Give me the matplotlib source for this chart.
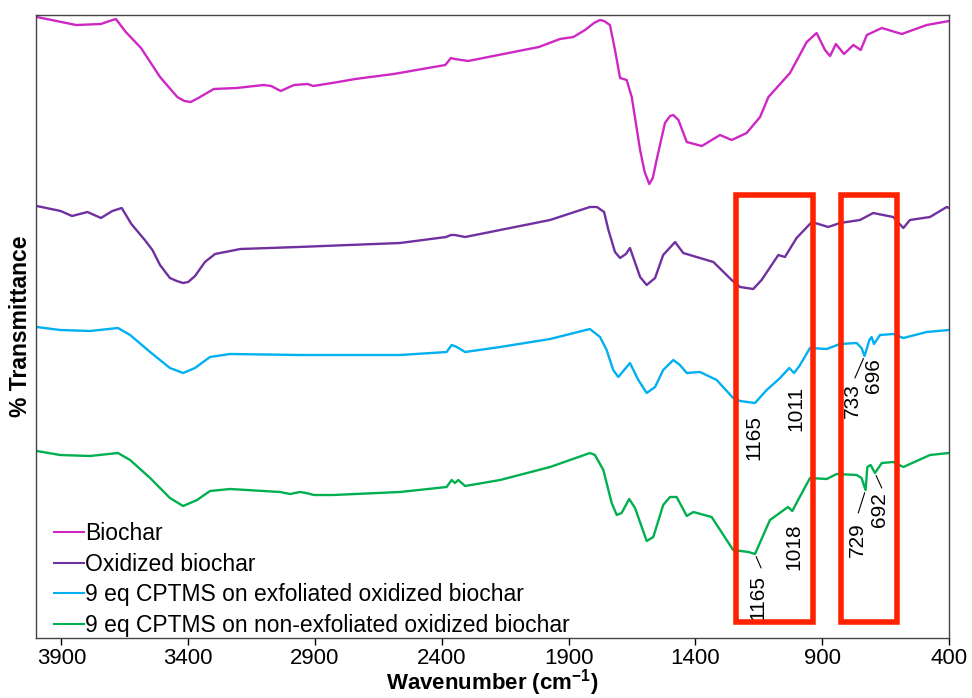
import matplotlib
matplotlib.use("Agg")
from matplotlib import pyplot as plt
from matplotlib.patches import Rectangle

plt.rcParams['font.family'] = ['Liberation Sans', 'DejaVu Sans']
plt.rcParams['mathtext.fontset'] = 'custom'
plt.rcParams['mathtext.rm'] = 'Liberation Sans'
plt.rcParams['mathtext.bf'] = 'Liberation Sans:bold'

# FTIR spectra, stacked (transmittance in arbitrary units)
bio_wn = [3997, 3842, 3744, 3710, 3685, 3646, 3586, 3511, 3443, 3415,
          3390, 3360, 3299, 3209, 3103, 3073, 3035, 2983, 2929, 2907,
          2832, 2741, 2590, 2386, 2364, 2349, 2296, 2137, 2017, 1934,
          1881, 1835, 1800, 1776, 1760, 1737, 1717, 1697, 1671, 1651,
          1618, 1600, 1582, 1568, 1553, 1520, 1500, 1487, 1467, 1434,
          1375, 1355, 1303, 1257, 1198, 1145, 1112, 1027, 961, 922,
          889, 869, 846, 814, 777, 748, 724, 665, 586, 488,
          400]
bio_t = [621, 613, 614, 617, 619, 606, 590, 561, 541, 537,
         536, 540, 549, 550, 553, 552, 547, 553, 554, 552,
         555, 559, 564, 573, 580, 579, 577, 585, 591, 599,
         601, 608, 615, 618, 617, 613, 588, 560, 558, 541,
         488, 466, 454, 460, 478, 515, 522, 523, 518, 496,
         492, 495, 503, 498, 505, 521, 541, 565, 596, 605,
         588, 582, 594, 584, 593, 588, 603, 610, 604, 613,
         617]

ox_wn = [3997, 3903, 3858, 3797, 3744, 3699, 3662, 3624, 3571, 3541,
         3511, 3472, 3445, 3420, 3400, 3373, 3334, 3294, 3194, 2967,
         2565, 2383, 2364, 2348, 2308, 2170, 1973, 1816, 1788, 1760,
         1743, 1717, 1697, 1674, 1658, 1618, 1592, 1559, 1527, 1480,
         1448, 1382, 1329, 1257, 1224, 1172, 1139, 1073, 1047, 1001,
         941, 876, 830, 751, 699, 620, 580, 554, 475, 409,
         400]
ox_t = [432, 427, 422, 426, 420, 427, 430, 414, 398, 388,
        373, 360, 357, 355, 356, 362, 376, 384, 389, 391,
        395, 401, 403, 403, 401, 408, 418, 431, 431, 426,
        408, 386, 380, 384, 390, 361, 353, 360, 383, 396,
        385, 380, 376, 358, 351, 349, 358, 383, 381, 400,
        416, 411, 415, 418, 425, 421, 410, 418, 421, 431,
        430]

exf_wn = [3997, 3905, 3787, 3677, 3629, 3550, 3472, 3420, 3373, 3314,
          3235, 2959, 2565, 2381, 2361, 2341, 2308, 2170, 1973, 1816,
          1776, 1750, 1724, 1704, 1658, 1625, 1592, 1559, 1527, 1487,
          1461, 1434, 1382, 1316, 1251, 1224, 1165, 1119, 1066, 1030,
          1011, 990, 948, 882, 830, 764, 745, 733, 714, 705,
          696, 672, 620, 580, 488, 400]
exf_t = [311, 308, 307, 310, 303, 286, 270, 265, 270, 281,
         284, 283, 283, 286, 293, 291, 286, 291, 299, 309,
         301, 288, 268, 261, 275, 258, 245, 251, 268, 278,
         273, 265, 266, 258, 240, 237, 235, 248, 260, 270,
         265, 272, 290, 289, 294, 295, 290, 282, 298, 301,
         294, 303, 304, 300, 306, 308]

non_wn = [3997, 3905, 3787, 3677, 3629, 3550, 3472, 3420, 3365, 3314,
          3235, 3038, 2998, 2959, 2935, 2904, 2829, 2565, 2381, 2361,
          2348, 2335, 2308, 2170, 1973, 1816, 1796, 1763, 1730, 1710,
          1691, 1661, 1638, 1592, 1566, 1527, 1500, 1474, 1434, 1408,
          1336, 1251, 1191, 1165, 1106, 1035, 1018, 995, 948, 882,
          843, 764, 745, 729, 722, 709, 692, 665, 620, 580,
          475, 400]
non_t = [187, 183, 182, 185, 178, 160, 140, 132, 138, 147,
         149, 146, 144, 146, 145, 143, 143, 146, 151, 158,
         155, 158, 152, 158, 171, 185, 183, 168, 135, 123,
         125, 139, 130, 97, 101, 133, 141, 141, 122, 126,
         121, 88, 86, 84, 118, 131, 127, 138, 160, 159,
         164, 163, 160, 148, 171, 173, 165, 175, 176, 171,
         183, 185]

labels = ["Biochar",
          "Oxidized biochar",
          "9 eq CPTMS on exfoliated oxidized biochar",
          "9 eq CPTMS on non-exfoliated oxidized biochar"]
colors = ['#cf27c4', '#7030a0', '#00b0f0', '#00b050']

# highlighted regions (wavenumber ranges)
regions = [(1240, 936), (826, 606)]

# assigned peaks on the two CPTMS spectra
exf_peaks = ["1165", "1011", "733", "696"]
non_peaks = ["1165", "1018", "729", "692"]

fig = plt.figure(figsize=(9.72, 6.98), dpi=100)
ax = fig.add_axes([0.03704, 0.08596, 0.93930, 0.89255])

spectra = [(bio_wn, bio_t), (ox_wn, ox_t), (exf_wn, exf_t), (non_wn, non_t)]
for (wn, t), lab, col in zip(spectra, labels, colors):
    ax.plot(wn, t, color=col, lw=1.7, label=lab)

for hi, lo in regions:
    ax.add_patch(Rectangle((lo, 16), hi - lo, 427, fill=False, edgecolor='#ff2200',
                           lw=4.0, joinstyle='miter', zorder=5))


def peak_t(wn, t, label):
    return t[wn.index(int(label))]


# label centre (wavenumber, transmittance) and start of the leader line, if any
exf_pos = [((1169, 200), None), ((1003, 230), None),
           ((780, 237), (771, 260)), ((696, 262), None)]
non_pos = [((1153, 40), (1141, 70)), ((1011, 91), None),
           ((763, 98), (758, 125)), ((674, 128), (665, 150))]

for peaks, pos, (wn, t) in [(exf_peaks, exf_pos, spectra[2]), (non_peaks, non_pos, spectra[3])]:
    for lab, ((tx, ty), lead) in zip(peaks, pos):
        ax.text(tx, ty, lab, rotation=90, ha='center', va='center', fontsize=15)
        if lead is not None:
            ax.annotate('', xy=(int(lab), peak_t(wn, t, lab)), xytext=lead,
                        arrowprops=dict(arrowstyle='-', lw=0.8, color='black',
                                        shrinkA=0, shrinkB=2))

ax.set_xlim(4000, 400)
ax.set_ylim(0, 623)
ax.set_xticks(range(3900, 399, -500))
ax.set_yticks([])
ax.tick_params(axis='x', direction='out', length=5, width=1, labelsize=16, pad=2.5)
for sp in ax.spines.values():
    sp.set_color('#444444')
    sp.set_linewidth(1)

ax.set_xlabel(r'Wavenumber (cm$^{\mathbf{-1}}$)', fontsize=16, fontweight='bold', labelpad=-1.5)
ax.set_ylabel('% Transmittance', fontsize=16.5, fontweight='bold', labelpad=3)

leg = ax.legend(loc='lower left', bbox_to_anchor=(0.0197, 0.002), frameon=False,
                fontsize=16.5, handlelength=1.3, handletextpad=0.05,
                labelspacing=0.33, borderpad=0, borderaxespad=0)
for line in leg.get_lines():
    line.set_linewidth(1.5)

fig.savefig("out.png", dpi=100)
